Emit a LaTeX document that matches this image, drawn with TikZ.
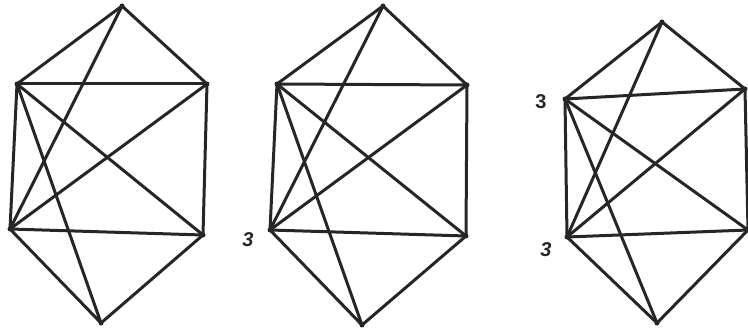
\documentclass[tikz,border=0pt]{standalone}
\usepackage{fontspec}
\setmainfont{Liberation Sans}
\usepackage{tikz}
\usetikzlibrary{calc}
\colorlet{ink}{black!85}

\begin{document}
\begin{tikzpicture}[x=1pt, y=-1pt,
    edge/.style={ink, line width=3pt, line cap=round, line join=round},
    vdot/.style={circle, fill=ink, inner sep=0pt, minimum size=5pt},
    deg/.style={ink, font=\fontsize{20}{20}\selectfont\bfseries}]
        % Fix the frame to the page size
        \useasboundingbox (0,0) rectangle (748,334);
        % First graph
        \coordinate (aT) at (122,6);
        \coordinate (aUL) at (17,84);
        \coordinate (aUR) at (207,84);
        \coordinate (aLL) at (10,229);
        \coordinate (aLR) at (203,235);
        \coordinate (aB) at (101,323);
        % Second graph
        \coordinate (bT) at (383,6);
        \coordinate (bUL) at (277,84);
        \coordinate (bUR) at (467,85);
        \coordinate (bLL) at (270,230);
        \coordinate (bLR) at (466,236);
        \coordinate (bB) at (362,325);
        % Third graph (right side runs off the page)
        \coordinate (cT) at (662,22);
        \coordinate (cUL) at (565,99);
        \coordinate (cUR) at (745,89);
        \coordinate (cLL) at (567,237);
        \coordinate (cLR) at (748,230);
        \coordinate (cB) at (657,323);
        % Same twelve edges in all three
        \foreach \g in {a,b,c} {
          \foreach \u/\v in {T/UL, T/UR, T/LL, UL/UR, UL/LL, UL/LR, UL/B,
                             UR/LR, UR/LL, LL/LR, LL/B, LR/B}
            \draw[edge] (\g\u) -- (\g\v);
          \foreach \u in {T,UL,UR,LL,LR,B}
            \node[vdot] (\g\u dot) at (\g\u) {};
        }
        % Degree labels
        \node[deg] (bLLlab) at (248,240) {\itshape 3};
        \node[deg] (cULlab) at (541,102) {3};
        \node[deg] (cLLlab) at (546,250) {\itshape 3};
      \end{tikzpicture}
\end{document}
